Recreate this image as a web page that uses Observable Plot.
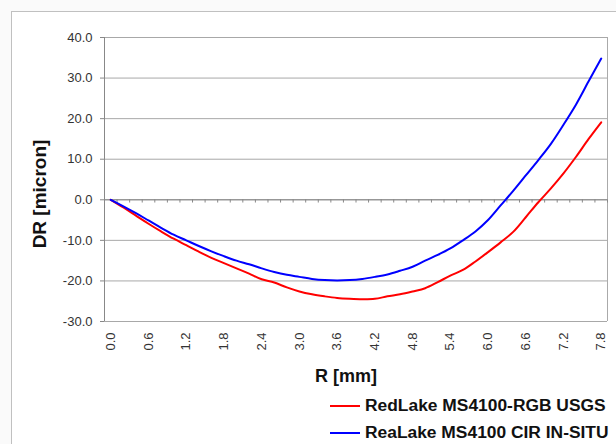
<!DOCTYPE html>
<html>
<head>
<meta charset="utf-8">
<script src="https://cdn.jsdelivr.net/npm/d3@7"></script>
<script src="https://cdn.jsdelivr.net/npm/@observablehq/plot@0.6"></script>
<style>
  html, body { margin: 0; padding: 0; background: #fff; }
  #wrap { position: relative; width: 616px; height: 444px; overflow: hidden; font-family: "Liberation Sans", Arial, sans-serif; background: #fafafa; }
  #frame { position: absolute; left: 11px; top: 11px; width: 620px; height: 460px; border: 1px solid #c0c0c0; background: #fff; }
  #chart { position: absolute; left: 0; top: 0; }
  .lab { position: absolute; font-weight: bold; color: #111; white-space: nowrap; }
  #ylab { left: 40px; top: 194px; transform: translate(-50%, -50%) rotate(-90deg); font-size: 19px; }
  #xlab { left: 346px; top: 376px; transform: translate(-50%, -50%); font-size: 18px; }
  .leg { position: absolute; left: 330px; font-size: 17.4px; font-weight: bold; color: #111; white-space: nowrap; display: flex; align-items: center; }
  .leg span.sw { display: inline-block; width: 30px; height: 2px; margin-right: 5px; }
</style>
</head>
<body>
<div id="wrap">
  <div id="frame"></div>
  <div id="chart"></div>
  <div class="lab" id="ylab">DR [micron]</div>
  <div class="lab" id="xlab">R [mm]</div>
  <div class="leg" style="top:395px"><span class="sw" style="background:#ff0000"></span>RedLake MS4100-RGB USGS</div>
  <div class="leg" style="top:422px"><span class="sw" style="background:#0000ff"></span>ReaLake MS4100 CIR IN-SITU</div>
</div>
<script>
const radius = [0.0,0.2,0.4,0.6,0.8,1.0,1.2,1.4,1.6,1.8,2.0,2.2,2.4,2.6,2.8,3.0,3.2,3.4,3.6,3.8,4.0,4.2,4.4,4.6,4.8,5.0,5.2,5.4,5.6,5.8,6.0,6.2,6.4,6.6,6.8,7.0,7.2,7.4,7.6,7.8];
const redRGB = [0,-1.9,-3.9,-5.9,-7.8,-9.6,-11.2,-12.8,-14.3,-15.6,-16.9,-18.2,-19.6,-20.4,-21.6,-22.6,-23.3,-23.8,-24.2,-24.4,-24.5,-24.4,-23.8,-23.3,-22.6,-21.8,-20.3,-18.7,-17.3,-15.2,-12.9,-10.5,-7.9,-4.3,-0.6,2.8,6.5,10.6,15.0,19.1];
const blueCIR = [0,-1.6,-3.3,-5.1,-6.9,-8.6,-10.0,-11.4,-12.7,-13.9,-15.0,-15.9,-16.9,-17.8,-18.5,-19.0,-19.5,-19.8,-19.9,-19.8,-19.5,-19.0,-18.4,-17.5,-16.5,-15.0,-13.6,-12.0,-10.0,-7.8,-5.0,-1.4,2.2,6.0,9.8,13.8,18.5,23.5,29.2,34.8];
const seriesNames = ["RedLake MS4100-RGB USGS", "ReaLake MS4100 CIR IN-SITU"];
const seriesColors = ["#ff0000", "#0000ff"];
const xTickLabels = [0.0,0.6,1.2,1.8,2.4,3.0,3.6,4.2,4.8,5.4,6.0,6.6,7.2,7.8];
const yTicks = [-30,-20,-10,0,10,20,30,40];

const data = [];
radius.forEach((r, i) => {
  data.push({r, v: redRGB[i], s: seriesNames[0]});
  data.push({r, v: blueCIR[i], s: seriesNames[1]});
});
const step = radius[1] - radius[0];
const boundaries = radius.map(r => r - step / 2).concat([radius[radius.length - 1] + step / 2]);

const plot = Plot.plot({
  width: 616,
  height: 444,
  marginLeft: 104,
  marginRight: 9,
  marginTop: 37,
  marginBottom: 123,
  style: {background: "transparent", fontFamily: "Liberation Sans, Arial, sans-serif", fontSize: "13px", color: "#333"},
  x: {domain: [boundaries[0], boundaries[boundaries.length - 1]]},
  y: {domain: [-30, 40]},
  color: {domain: seriesNames, range: seriesColors},
  marks: [
    Plot.ruleY(yTicks, {stroke: "#a8a8a8", strokeWidth: 1}),
    Plot.ruleX([boundaries[0]], {y1: -30, y2: 40, stroke: "#888", strokeWidth: 1}),
    Plot.ruleX([boundaries[boundaries.length - 1]], {y1: -30, y2: 40, stroke: "#aaa", strokeWidth: 1}),
    Plot.ruleY([0], {stroke: "#888", strokeWidth: 1}),
    Plot.ruleX(boundaries, {y1: 0, y2: -0.8, stroke: "#888", strokeWidth: 1}),
    Plot.axisY(yTicks, {tickSize: 4, tickPadding: 8, tickFormat: d => d.toFixed(1), stroke: "#888", fill: "#333", fontSize: 13, label: null}),
    Plot.axisX(xTickLabels, {tickSize: 0, tickPadding: 11, tickRotate: -90, tickFormat: d => d.toFixed(1), fill: "#333", fontSize: 13, label: null}),
    Plot.line(data, {x: "r", y: "v", z: "s", stroke: "s", strokeWidth: 2, curve: "catmull-rom"})
  ]
});
document.getElementById("chart").appendChild(plot);
</script>
</body>
</html>
